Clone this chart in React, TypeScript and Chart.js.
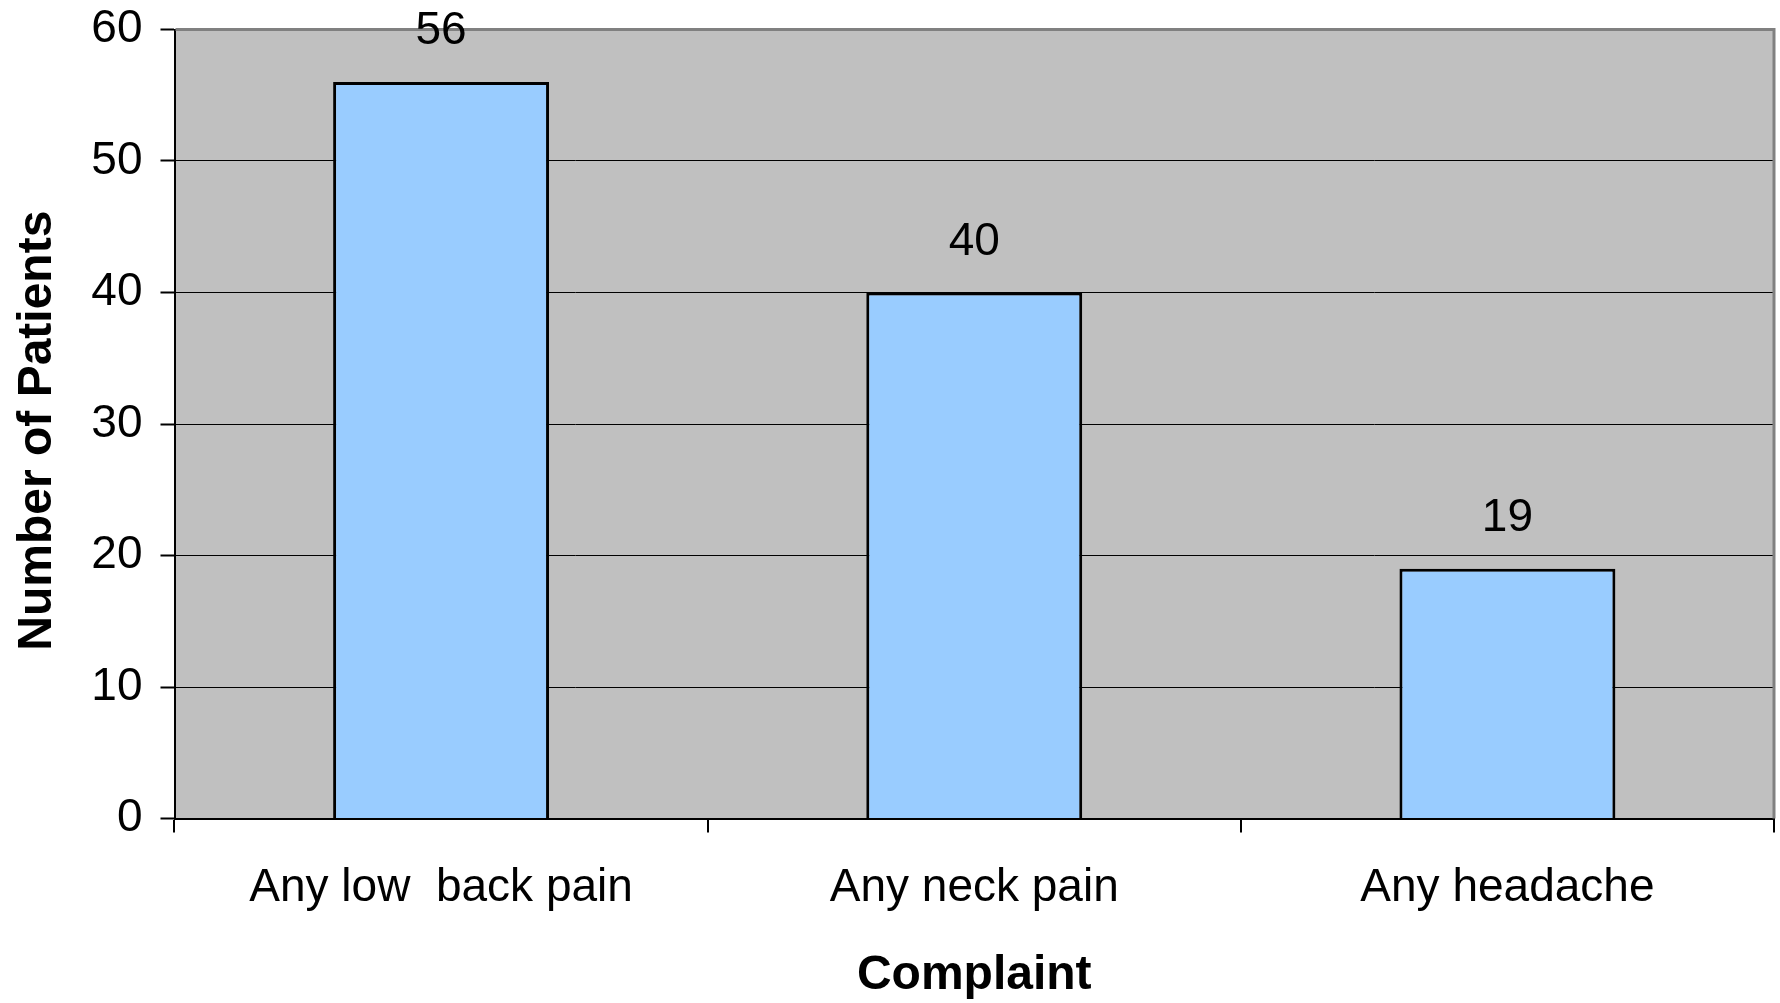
import { useEffect, useRef } from 'react';
import { Chart, registerables } from 'chart.js';

Chart.register(...registerables);

// Complaint categories and patient counts
const complaints = ['Any low  back pain', 'Any neck pain', 'Any headache'];
const patientCounts = [56, 40, 19];

// Value axis range
const yMin = 0;
const yMax = 60;
const yStep = 10;

const FONT = 'Arial, "Liberation Sans", sans-serif';

// Grey plot background with a darker frame on the top and right edges
const plotFrame = {
  id: 'plotFrame',
  beforeDraw(chart: any) {
    const { ctx, chartArea: a } = chart;
    ctx.save();
    ctx.fillStyle = '#c0c0c0';
    ctx.fillRect(a.left, a.top, a.right - a.left, a.bottom - a.top);
    ctx.restore();
  },
  beforeDatasetsDraw(chart: any) {
    const { ctx, chartArea: a } = chart;
    ctx.save();
    ctx.strokeStyle = '#808080';
    ctx.lineWidth = 3;
    ctx.beginPath();
    ctx.moveTo(a.left + 1, a.top);
    ctx.lineTo(a.right, a.top);
    ctx.lineTo(a.right, a.bottom);
    ctx.stroke();
    ctx.restore();
  },
};

// Count printed above each bar
const valueLabels = {
  id: 'valueLabels',
  afterDatasetsDraw(chart: any) {
    const { ctx } = chart;
    const meta = chart.getDatasetMeta(0);
    const values = chart.data.datasets[0].data;
    ctx.save();
    ctx.font = `46px ${FONT}`;
    ctx.fillStyle = '#000';
    ctx.textAlign = 'center';
    ctx.textBaseline = 'alphabetic';
    meta.data.forEach((bar: any, i: number) => {
      ctx.fillText(String(values[i]), bar.x, bar.y - 38);
    });
    ctx.restore();
  },
};

// Keep the plot area where the layout padding puts it
function clearScalePadding(scale: any) {
  scale.paddingTop = 0;
  scale.paddingBottom = 0;
  scale.paddingLeft = 0;
  scale.paddingRight = 0;
}

export default function App() {
  const canvasRef = useRef<HTMLCanvasElement | null>(null);

  useEffect(() => {
    if (!canvasRef.current) return;
    const chart = new Chart(canvasRef.current, {
      type: 'bar',
      data: {
        labels: complaints,
        datasets: [
          {
            data: patientCounts,
            backgroundColor: '#99ccff',
            borderColor: '#000000',
            borderWidth: 3,
            barPercentage: 0.405,
            categoryPercentage: 1,
          },
        ],
      },
      options: {
        responsive: false,
        animation: false,
        layout: { padding: { top: 29.5, right: 6, left: 0, bottom: 0 } },
        plugins: {
          legend: { display: false },
          tooltip: { enabled: false },
        },
        scales: {
          x: {
            type: 'category',
            offset: true,
            z: 1,
            grid: {
              offset: true,
              drawOnChartArea: false,
              drawTicks: true,
              tickLength: 14,
              color: '#000000',
              lineWidth: 2,
            },
            border: { display: true, color: '#000000', width: 2 },
            ticks: {
              color: '#000000',
              font: { family: FONT, size: 46 },
              padding: 28,
              maxRotation: 0,
              autoSkip: false,
            },
            title: {
              display: true,
              text: 'Complaint',
              color: '#000000',
              font: { family: FONT, size: 48, weight: 'bold' },
              padding: { top: 0, bottom: -2 },
            },
            afterFit(scale: any) {
              scale.height = 184.5;
              clearScalePadding(scale);
            },
          },
          y: {
            min: yMin,
            max: yMax,
            ticks: {
              stepSize: yStep,
              color: '#000000',
              font: { family: FONT, size: 46 },
              padding: 18,
            },
            grid: {
              color: '#000000',
              lineWidth: 1,
              tickLength: 14,
              tickColor: '#000000',
              tickWidth: 2,
            },
            border: { display: true, color: '#000000', width: 2 },
            title: {
              display: true,
              text: 'Number of Patients ',
              color: '#000000',
              font: { family: FONT, size: 48, weight: 'bold' },
              padding: { top: 9, bottom: 0 },
            },
            afterFit(scale: any) {
              scale.width = 174.5;
              clearScalePadding(scale);
            },
          },
        },
      },
      plugins: [plotFrame, valueLabels],
    });
    return () => chart.destroy();
  }, []);

  return (
    <div style={{ position: 'fixed', left: 0, top: 0, width: 1780, height: 1003, background: '#ffffff' }}>
      <canvas ref={canvasRef} width={1780} height={1003} style={{ display: 'block' }} />
    </div>
  );
}
